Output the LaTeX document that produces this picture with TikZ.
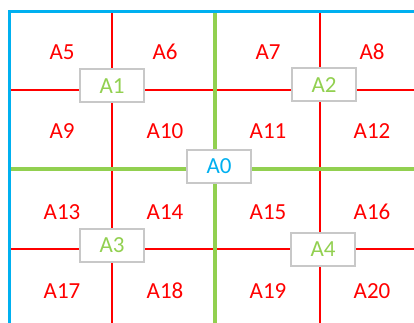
\documentclass[tikz,border=0pt]{standalone}
\usepackage{fontspec}
\setmainfont{Carlito}
\definecolor{myred}{HTML}{FF0000}
\definecolor{mygreen}{HTML}{92D050}
\definecolor{myblue}{HTML}{00B0F0}
\definecolor{mygray}{HTML}{C8C8C8}
\begin{document}
\begin{tikzpicture}[x=1pt,y=-1pt,
  lbl/.style={text=myred,font=\fontsize{23}{25}\selectfont,inner sep=0pt},
  tag/.style={draw=mygray,line width=2pt,fill=white,minimum width=64pt,minimum height=33pt,inner sep=0pt,font=\fontsize{23}{25}\selectfont},
  redln/.style={draw=myred,line width=2.2pt},
  redv/.style={draw=myred,line width=1.2pt},
  grnln/.style={draw=mygreen,line width=3.2pt},
  bluln/.style={draw=myblue,line width=3pt}]
\useasboundingbox (0,0) rectangle (414,323);
% coordinates
\coordinate (tl) at (9,12);
\coordinate (tr) at (414,12);
\coordinate (bl) at (9,323);
\coordinate (h1l) at (9,90);   \coordinate (h1r) at (414,90);
\coordinate (h2l) at (9,169);  \coordinate (h2r) at (414,169);
\coordinate (h3l) at (9,249);  \coordinate (h3r) at (414,249);
\coordinate (v1t) at (112,12); \coordinate (v1b) at (112,323);
\coordinate (v2t) at (215,12); \coordinate (v2b) at (215,323);
\coordinate (v3t) at (320,12); \coordinate (v3b) at (320,323);
% red lines
\draw[redln] (h1l) -- (h1r);
\draw[redln] (h3l) -- (h3r);
\draw[redv] (v1t) -- (v1b);
\draw[redv] (v3t) -- (v3b);
% green lines
\draw[grnln] (h2l) -- (h2r);
\draw[grnln] (v2t) -- (v2b);
% blue frame
\draw[bluln] (bl) -- (tl) -- (tr);
% labels
\node[lbl] (a5)  at (62,52)  {A5};
\node[lbl] (a6)  at (165,52) {A6};
\node[lbl] (a7)  at (268,52) {A7};
\node[lbl] (a8)  at (372,52) {A8};
\node[lbl] (a9)  at (62,131)  {A9};
\node[lbl] (a10) at (165,131) {A10};
\node[lbl] (a11) at (268,131) {A11};
\node[lbl] (a12) at (372,131) {A12};
\node[lbl] (a13) at (62,212)  {A13};
\node[lbl] (a14) at (165,212) {A14};
\node[lbl] (a15) at (268,212) {A15};
\node[lbl] (a16) at (372,212) {A16};
\node[lbl] (a17) at (62,291)  {A17};
\node[lbl] (a18) at (165,291) {A18};
\node[lbl] (a19) at (268,291) {A19};
\node[lbl] (a20) at (372,291) {A20};
% tags
\node[tag,text=mygreen] (a1) at (112,86)  {A1};
\node[tag,text=mygreen] (a2) at (324,85)  {A2};
\node[tag,text=mygreen] (a3) at (112,245) {A3};
\node[tag,text=mygreen] (a4) at (323,249) {A4};
\node[tag,text=myblue]  (a0) at (219,166.5) {A0};
\end{tikzpicture}
\end{document}
